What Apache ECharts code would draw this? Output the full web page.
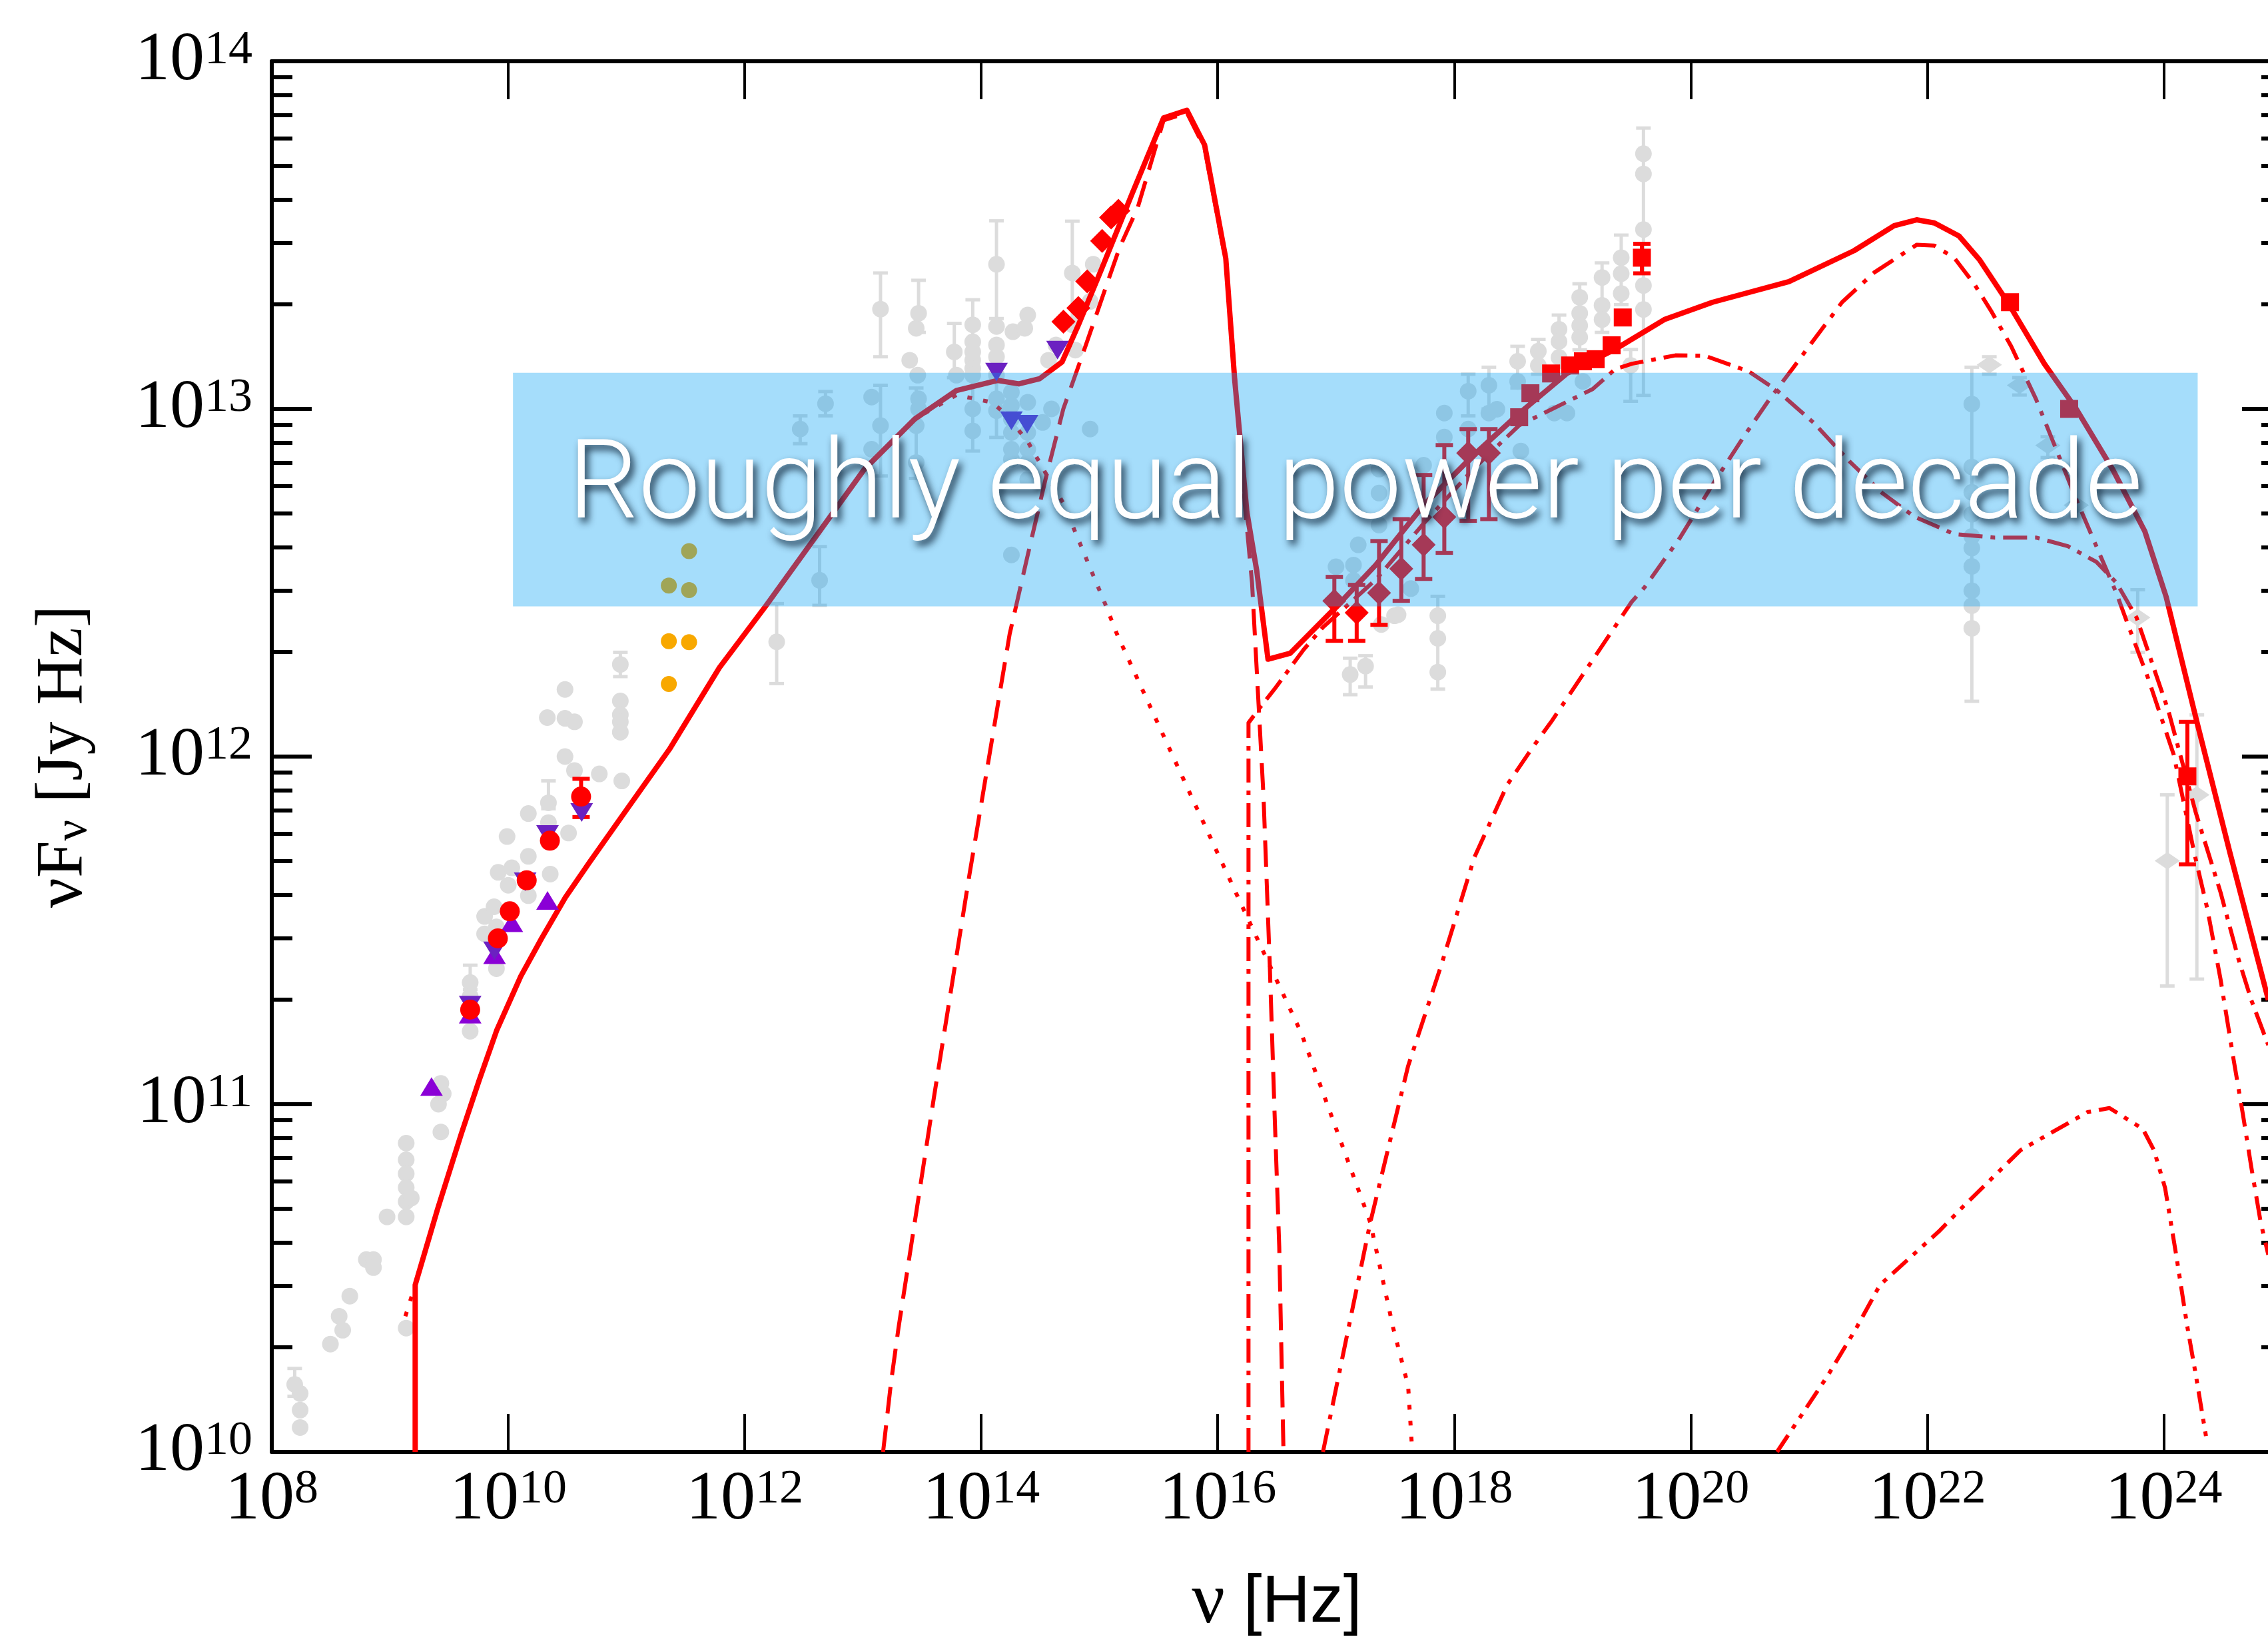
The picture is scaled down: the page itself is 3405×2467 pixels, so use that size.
<!DOCTYPE html>
<html><head><meta charset="utf-8">
<script src="https://cdn.jsdelivr.net/npm/echarts@6/dist/echarts.min.js"></script>
<style>html,body{margin:0;padding:0;background:#fff;overflow:hidden;width:3405px;height:2467px}
#c{width:3440px;height:2467px}</style></head>
<body><div id="c"></div><script>
// ---- Data (log10 nu [Hz], log10 nuFnu [Jy Hz]) ----
const xTickExp = [8,10,12,14,16,18,20,22,24];
const yTickExp = [10,11,12,13,14];

const totalModel = [[9.213,10.0],[9.213,10.48],[9.402,10.698],[9.603,10.915],[9.754,11.069],[9.904,11.214],[10.106,11.368],[10.282,11.477],[10.483,11.595],[10.685,11.695],[10.986,11.84],[11.363,12.021],[11.786,12.256],[12.18,12.434],[13.01,12.826],[13.438,12.971],[13.79,13.053],[14.141,13.082],[14.318,13.072],[14.494,13.087],[14.683,13.135],[14.821,13.241],[15.022,13.406],[15.274,13.618],[15.542,13.837],[15.739,13.859],[15.889,13.759],[16.068,13.433],[16.143,13.085],[16.246,12.704],[16.33,12.534],[16.425,12.28],[16.612,12.297],[16.986,12.425],[17.336,12.551],[17.741,12.723],[18.145,12.861],[18.549,12.987],[18.953,13.102],[19.358,13.171],[19.777,13.257],[20.186,13.307],[20.83,13.366],[21.38,13.455],[21.72,13.527],[21.91,13.544],[22.06,13.535],[22.27,13.497],[22.44,13.43],[22.68,13.307],[22.99,13.13],[23.26,13.0],[23.57,12.825],[23.84,12.648],[24.02,12.46],[24.28,12.1],[24.56,11.723],[24.885,11.3]];
const synchrotron = [[9.13,10.39],[9.213,10.48],[9.402,10.698],[9.603,10.915],[9.754,11.069],[9.904,11.214],[10.106,11.368],[10.282,11.477],[10.483,11.595],[10.685,11.695],[10.986,11.84],[11.363,12.021],[11.786,12.256],[12.18,12.434],[13.01,12.826],[13.438,12.971],[13.79,13.04],[14.09,13.019],[14.19,12.99],[14.39,12.908],[14.543,12.816],[14.694,12.729],[14.87,12.584],[15.048,12.439],[15.148,12.352],[15.73,11.92],[16.237,11.547],[16.705,11.206],[17.29,10.66],[17.484,10.356],[17.61,10.19],[17.645,10.0]];
const thermal = [[13.17,10.0],[13.237,10.2],[13.30,10.356],[13.6,11.02],[13.9,11.66],[14.24,12.352],[14.39,12.575],[14.543,12.797],[14.694,13.0],[14.845,13.145],[15.022,13.319],[15.17,13.464],[15.324,13.58],[15.542,13.83],[15.739,13.852],[15.889,13.75],[16.07,13.42],[16.15,13.07],[16.23,12.72],[16.29,12.5],[16.387,11.886],[16.44,11.40],[16.48,10.98],[16.52,10.59],[16.556,10.0]];
const sscComp = [[16.26,10.0],[16.26,12.097],[16.35,12.138],[16.48,12.194],[16.725,12.307],[16.89,12.372],[17.34,12.51],[17.74,12.67],[18.17,12.83],[18.55,12.953],[19.17,13.057],[19.36,13.114],[19.504,13.13],[19.87,13.154],[20.12,13.153],[20.49,13.108],[20.73,13.053],[21.04,12.96],[21.34,12.85],[21.62,12.758],[21.89,12.69],[22.23,12.64],[22.57,12.63],[22.92,12.63],[23.19,12.605],[23.43,12.56],[23.6,12.5],[23.77,12.40],[24.04,12.131],[24.27,11.84],[24.48,11.61],[24.63,11.42],[24.74,11.3],[24.884,11.17]];
const ecComp = [[16.89,10.0],[17.29,10.66],[17.61,11.11],[17.89,11.40],[18.17,11.71],[18.45,11.92],[18.66,12.025],[18.82,12.10],[19.5,12.445],[19.61,12.487],[19.91,12.63],[20.186,12.783],[20.46,12.926],[20.666,13.028],[20.87,13.12],[21.0,13.18],[21.28,13.307],[21.55,13.392],[21.91,13.472],[22.06,13.47],[22.23,13.434],[22.4,13.358],[22.54,13.282],[22.71,13.18],[22.92,13.028],[23.09,12.884],[23.26,12.74],[23.43,12.605],[23.6,12.47],[23.7,12.377],[23.867,12.226],[24.084,12.006],[24.26,11.72],[24.37,11.56],[24.48,11.36],[24.59,11.13],[24.67,10.97],[24.74,10.82],[24.82,10.66],[24.884,10.567]];
const lowComp = [[20.73,10.0],[21.16,10.22],[21.40,10.356],[21.6,10.48],[22.095,10.633],[22.302,10.705],[22.79,10.868],[23.354,10.977],[23.541,10.989],[23.823,10.929],[23.917,10.868],[24.011,10.76],[24.105,10.567],[24.199,10.361],[24.274,10.216],[24.368,10.023]];

// archival data (grey)
const greyCircles = [[8.194,10.194],[8.24,10.168],[8.24,10.12],[8.24,10.07],[8.496,10.31],[8.57,10.39],[8.60,10.35],[8.66,10.448],[8.80,10.553],[8.86,10.553],[8.86,10.53],[8.975,10.676],[9.137,10.888],[9.137,10.84],[9.137,10.80],[9.137,10.76],[9.137,10.72],[9.18,10.73],[9.137,10.676],[9.137,10.356],[9.41,11.0],[9.43,11.06],[9.43,10.92],[9.45,11.03],[9.678,11.35],[9.678,11.31],[9.678,11.21],[9.80,11.54],[9.80,11.49],[9.88,11.568],[9.915,11.667],[9.99,11.77],[10.0,11.63],[10.03,11.68],[9.90,11.39],[9.90,11.51],[10.17,11.836],[10.17,11.713],[10.17,11.60],[10.33,12.112],[10.34,11.867],[10.355,11.662],[10.34,11.81],[10.48,12.193],[10.48,12.11],[10.56,12.10],[10.48,12.0],[10.56,11.96],[10.51,11.78],[10.77,11.95],[10.948,12.265],[10.948,12.16],[10.948,12.12],[10.948,12.10],[10.948,12.07],[10.96,11.93],
[12.27,12.33],[12.469,12.942],[12.633,12.507],[12.683,13.015],[13.073,13.034],[13.073,12.884],[13.148,13.287],[13.148,12.952],[13.395,13.14],[13.45,13.232],[13.47,13.275],[13.463,13.097],[13.47,13.029],[13.47,13.0],[13.45,12.952],[13.45,12.846],[13.772,13.164],[13.79,13.097],[13.928,13.242],[13.928,13.193],[13.928,13.164],[13.928,13.14],[13.928,13.116],[13.928,13.097],[13.928,13.0],[13.928,12.937],[14.129,13.416],[14.129,13.237],[14.129,13.184],[14.129,13.15],[14.129,13.097],[14.129,13.029],[14.129,12.995],[14.268,13.222],[14.393,13.27],[14.368,13.232],[14.255,13.048],[14.255,13.01],[14.255,12.971],[14.255,12.932],[14.255,12.884],[14.255,12.855],[14.393,13.019],[14.393,12.932],[14.393,12.884],[14.393,12.846],[14.393,12.797],[14.519,12.961],[14.594,13.0],[14.77,13.391],[14.77,13.242],[14.947,13.416],[14.921,13.309],[14.796,13.169],[14.921,12.942],[14.632,13.184],[14.569,13.14],[14.255,12.58],
[17.0,12.546],[17.12,12.236],[17.25,12.26],[17.148,12.551],[17.148,12.506],[17.188,12.609],[17.364,12.827],[17.364,12.758],[17.364,12.666],[17.383,12.38],[17.495,12.405],[17.525,12.408],[17.633,12.483],[17.741,12.838],[17.861,12.405],[17.861,12.34],[17.861,12.243],[17.916,12.988],[17.916,12.919],[18.118,13.051],[18.118,12.942],[18.293,13.068],[18.293,12.988],[18.361,12.999],[18.536,13.137],[18.536,13.079],[18.563,12.879],[18.711,13.166],[18.711,13.125],[18.846,12.988],[18.886,13.229],[18.886,13.194],[18.886,13.148],[18.953,12.988],[19.061,13.321],[19.061,13.275],[19.061,13.24],[19.061,13.206],[19.088,13.079],[19.25,13.378],[19.25,13.298],[19.25,13.257],[19.412,13.435],[19.412,13.389],[19.412,13.332],[19.492,13.125],[19.6,13.734],[19.6,13.676],[19.6,13.516],[19.6,13.355],[19.6,13.286],
[22.377,13.014],[22.377,12.833],[22.377,12.76],[22.377,12.697],[22.377,12.633],[22.377,12.6],[22.377,12.547],[22.377,12.477],[22.377,12.434],[22.377,12.369]];
const greyDiamonds = [[22.525,13.127],[22.78,13.068],[23.02,12.895],[23.26,12.723],[23.78,12.4],[24.03,11.70],[24.28,11.89]];
const greyErrors = [[8.194,10.16,10.24],[9.678,11.33,11.40],[10.34,11.85,11.93],[10.948,12.23,12.30],
[12.27,12.21,12.44],[12.469,12.90,12.98],[12.633,12.435,12.604],[12.683,12.98,13.05],[13.148,13.15,13.391],[13.148,12.807,13.068],[13.47,13.22,13.37],[13.45,12.80,13.06],[13.772,13.09,13.246],[13.928,12.879,13.314],[14.129,13.26,13.541],[14.129,12.918,13.15],[14.77,13.24,13.54],
[17.12,12.178,12.283],[17.25,12.2,12.29],[17.861,12.194,12.461],[18.118,12.98,13.1],[18.293,13.0,13.12],[18.536,13.06,13.18],[18.711,13.1,13.2],[18.886,13.12,13.27],[19.061,13.17,13.36],[19.25,13.22,13.42],[19.412,13.3,13.5],[19.6,13.039,13.808],[19.492,13.022,13.171],
[22.377,12.159,13.12],[22.525,13.10,13.15],[22.78,13.04,13.09],[23.02,12.86,12.92],[23.78,12.30,12.48],[24.03,11.34,11.89],[24.28,11.36,12.12]];

// simultaneous data
const redCircles = [[9.678,11.272],[9.912,11.477],[10.013,11.555],[10.156,11.644],[10.352,11.758],[10.616,11.885]];
const purpleUp = [[9.351,11.051],[9.678,11.259],[9.884,11.43],[10.03,11.522],[10.332,11.586]];
const purpleDown = [[9.678,11.285],[9.884,11.441],[10.143,11.64],[10.332,11.776],[10.621,11.839],[14.129,13.106],[14.255,12.966],[14.388,12.956],[14.645,13.169]];
const orangeCircles = [[11.358,12.492],[11.529,12.591],[11.529,12.479],[11.358,12.332],[11.529,12.329],[11.358,12.209]];
const redDiamonds = [[14.695,13.251],[14.821,13.29],[14.896,13.367],[15.022,13.483],[15.098,13.551],[15.16,13.57],
[16.986,12.448],[17.175,12.414],[17.364,12.471],[17.552,12.54],[17.741,12.609],[17.916,12.689],[18.118,12.873],[18.293,12.873]];
const redSquares = [[18.549,12.976],[18.644,13.045],[18.819,13.102],[18.98,13.125],[19.088,13.137],[19.196,13.143],[19.331,13.183],[19.425,13.263],[19.587,13.435],[22.7,13.307],[23.2,13.0],[24.2,11.943]];
const redErrors = [[10.616,11.826,11.936],[16.986,12.333,12.517],[17.175,12.333,12.494],[17.364,12.379,12.62],[17.552,12.448,12.683],[17.741,12.511,12.81],[17.916,12.586,12.896],[18.118,12.678,12.942],[18.293,12.683,12.942],[19.587,13.39,13.475],[24.2,11.69,12.1]];

// shaded band: [log nu min, log nu max], [log flux min, log flux max]
const bandX = [10.04, 24.287];
const bandY = [12.432, 13.104];
const bandText = 'Roughly equal power per decade';

// ---- helpers ----
const lin = arr => arr.map(p => [Math.pow(10, p[0]), Math.pow(10, p[1])]);
const linErr = arr => arr.map(p => [Math.pow(10, p[0]), Math.pow(10, p[1]), Math.pow(10, p[2])]);
const RED = '#ff0000', GREY = '#dcdcdc';
const serif = 'Liberation Serif';
const supRich = {
  b: {fontFamily: serif, fontSize: 104, color: '#000', verticalAlign: 'bottom', lineHeight: 104, padding: [40, 0, 0, 0]},
  s: {fontFamily: serif, fontSize: 72, color: '#000', verticalAlign: 'top', lineHeight: 72}
};
const supFmt = v => '{b|10}{s|' + Math.round(Math.log10(v)) + '}';
const xMajors = xTickExp.map(e => Math.pow(10, e));
const yMajors = yTickExp.map(e => Math.pow(10, e));
const yMinors = [];
for (let e = 10; e < 14; e++) for (let m = 2; m <= 9; m++) yMinors.push(m * Math.pow(10, e));

function errSeries(data, color, width, cap, z) {
  return {
    type: 'custom', z: z, silent: true, data: linErr(data),
    encode: {x: 0, y: [1, 2]},
    renderItem: (params, api) => {
      const x = api.value(0);
      const a = api.coord([x, api.value(1)]);
      const b = api.coord([x, api.value(2)]);
      const st = {stroke: color, lineWidth: width};
      return {type: 'group', children: [
        {type: 'line', shape: {x1: a[0], y1: a[1], x2: b[0], y2: b[1]}, style: st},
        {type: 'line', shape: {x1: a[0] - cap, y1: a[1], x2: a[0] + cap, y2: a[1]}, style: st},
        {type: 'line', shape: {x1: b[0] - cap, y1: b[1], x2: b[0] + cap, y2: b[1]}, style: st}
      ]};
    }
  };
}
function lineSeries(data, dash, width, z) {
  return {type: 'line', data: lin(data), showSymbol: false, symbol: 'none', z: z, silent: true,
    lineStyle: {color: RED, width: width, type: dash, cap: 'butt', join: 'round'}};
}
function scatter(data, symbol, size, color, z, rot) {
  return {type: 'scatter', data: lin(data), symbol: symbol, symbolSize: size, symbolRotate: rot || 0,
    itemStyle: {color: color, opacity: 1}, z: z, silent: true};
}

const chart = echarts.init(document.getElementById('c'), null, {renderer: 'canvas'});
const axisLine = {show: true, onZero: false, lineStyle: {color: '#000', width: 6}};
chart.setOption({
  animation: false,
  backgroundColor: '#fff',
  grid: {left: 408, right: 14, top: 76, bottom: 279, containLabel: false},
  xAxis: [
    {type: 'log', logBase: 10, min: 1e8, max: 1e25, position: 'bottom',
     axisLine: axisLine,
     axisTick: {show: true, inside: true, length: 57, customValues: xMajors, lineStyle: {color: '#000', width: 4}},
     axisLabel: {show: true, customValues: xMajors, margin: 21, formatter: supFmt, rich: supRich},
     splitLine: {show: false}, minorTick: {show: false},
     name: '{g|ν}{h| [Hz]}', nameLocation: 'middle', nameGap: 172,
     nameTextStyle: {rich: {g: {fontFamily: serif, fontSize: 110, color: '#000'}, h: {fontFamily: 'Liberation Sans', fontSize: 100, color: '#000'}}}},
    {type: 'log', logBase: 10, min: 1e8, max: 1e25, position: 'top',
     axisLine: axisLine,
     axisTick: {show: true, inside: true, length: 57, customValues: xMajors, lineStyle: {color: '#000', width: 4}},
     axisLabel: {show: false}, splitLine: {show: false}}
  ],
  yAxis: [
    {type: 'log', logBase: 10, min: 1e10, max: 1e14, position: 'left',
     axisLine: axisLine,
     axisTick: {show: true, inside: true, length: 60, customValues: yMajors, lineStyle: {color: '#000', width: 6}},
     axisLabel: {show: true, customValues: yMajors, margin: 29, formatter: supFmt, rich: supRich},
     splitLine: {show: false},
     name: '{a|νF}{s|ν}{a| [Jy Hz]}', nameLocation: 'middle', nameRotate: 90, nameGap: 262,
     nameTextStyle: {rich: {a: {fontFamily: serif, fontSize: 100, color: '#000', verticalAlign: 'top', lineHeight: 100},
       s: {fontFamily: serif, fontSize: 70, color: '#000', verticalAlign: 'bottom', lineHeight: 70, padding: [50, 0, 0, 0]}}}},
    {type: 'log', logBase: 10, min: 1e10, max: 1e14, position: 'left',
     axisLine: {show: false},
     axisTick: {show: true, inside: true, length: 31, customValues: yMinors, lineStyle: {color: '#000', width: 6}},
     axisLabel: {show: false}, splitLine: {show: false}},
    {type: 'log', logBase: 10, min: 1e10, max: 1e14, position: 'right',
     axisLine: axisLine,
     axisTick: {show: true, inside: true, length: 60, customValues: yMajors, lineStyle: {color: '#000', width: 6}},
     axisLabel: {show: false}, splitLine: {show: false}},
    {type: 'log', logBase: 10, min: 1e10, max: 1e14, position: 'right',
     axisLine: {show: false},
     axisTick: {show: true, inside: true, length: 31, customValues: yMinors, lineStyle: {color: '#000', width: 6}},
     axisLabel: {show: false}, splitLine: {show: false}}
  ],
  series: [
    errSeries(greyErrors, GREY, 5, 11, 1),
    scatter(greyCircles, 'circle', 25, GREY, 1),
    scatter(greyDiamonds, 'diamond', [38, 26], GREY, 1),
    lineSeries(synchrotron, [7, 17], 6, 3),
    lineSeries(thermal, [40, 18], 6, 3),
    lineSeries(sscComp, [36, 12, 7, 12], 6, 3),
    lineSeries(ecComp, [36, 14, 7, 14], 6, 3),
    lineSeries(lowComp, [30, 12, 7, 12, 7, 12], 6, 3),
    lineSeries(totalModel, 'solid', 8, 4),
    errSeries(redErrors, RED, 6, 13, 5),
    scatter(orangeCircles, 'circle', 24, '#f8a800', 5),
    scatter(purpleUp, 'triangle', [34, 28], '#8a00d6', 5),
    scatter(purpleDown, 'triangle', [34, 28], '#6b21c1', 5, 180),
    scatter(redCircles, 'circle', 30, RED, 6),
    scatter(redDiamonds, 'diamond', [36, 36], RED, 6),
    scatter(redSquares, 'rect', 27, RED, 6),
    {type: 'line', data: [], z: 20, silent: true,
     markArea: {silent: true, z: 20,
       itemStyle: {color: 'rgba(4,159,244,0.355)', borderWidth: 0},
       label: {show: true, position: 'inside', formatter: bandText, color: '#ffffff',
         fontFamily: "'Helvetica Neue', Roboto, 'Liberation Sans', sans-serif", fontWeight: 300, fontSize: 166,
         textShadowColor: 'rgba(10,30,50,0.9)', textShadowBlur: 12, textShadowOffsetX: 5, textShadowOffsetY: 7},
       data: [[{coord: [Math.pow(10, bandX[0]), Math.pow(10, bandY[0])]}, {coord: [Math.pow(10, bandX[1]), Math.pow(10, bandY[1])]}]]}}
  ]
});
</script></body></html>
